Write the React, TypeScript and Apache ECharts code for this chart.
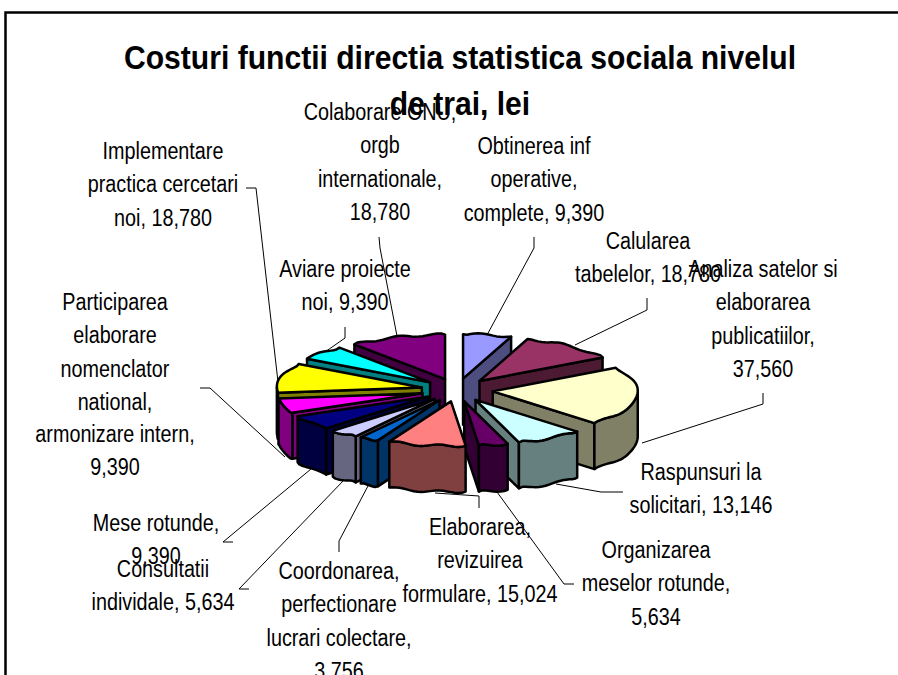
import React, { useEffect, useRef } from "react";
import * as echarts from "echarts";

const titleText = "Costuri functii directia statistica sociala nivelul\nde trai, lei";
const categories = [
  "Obtinerea inf\noperative,\ncomplete, ",
  "Calularea\ntabelelor, ",
  "Analiza satelor si\nelaborarea\npublicatiilor,\n",
  "Raspunsuri la\nsolicitari, ",
  "Organizarea\nmeselor rotunde,\n",
  "Elaborarea,\nrevizuirea\nformulare, ",
  "Coordonarea,\nperfectionare\nlucrari colectare,\n",
  "Consultatii\nindividale, ",
  "Mese rotunde,\n",
  "Participarea\nelaborare\nnomenclator\nnational,\narmonizare intern,\n",
  "Implementare\npractica cercetari\nnoi, ",
  "Aviare proiecte\nnoi, ",
  "Colaborare ONU,\norgb\ninternationale,\n",
];
const values = [9390, 18780, 37560, 13146, 5634, 15024, 3756, 5634, 9390, 9390, 18780, 9390, 18780];
const colors = ["#9999FF", "#993366", "#FFFFCC", "#CCFFFF", "#660066", "#FF8080", "#0066CC", "#CCCCFF", "#000080", "#FF00FF", "#FFFF00", "#00FFFF", "#800080"];
// label anchor: centre x, centre y of the first line
const labelAnchors = [[534, 147], [648, 242], [763, 270], [701, 473], [656, 551], [480, 528], [339, 572], [163, 570], [156, 524], [115, 303], [163, 152], [345, 270], [380, 113]];
const leaders = [
  [[534, 237], [534, 248], [487, 335]],
  [[647, 298], [647, 310], [575, 345]],
  [[763, 393], [763, 404], [642, 443]],
  [[623, 492], [601, 492], [556, 484]],
  [[574, 584], [564, 584], [497, 492]],
  [[479, 508], [479, 496], [435, 493]],
  [[339, 552], [339, 541], [369, 484]],
  [[249, 589], [239, 589], [344, 480]],
  [[233, 542], [223, 542], [311, 469]],
  [[200, 388], [210, 388], [285, 457]],
  [[246, 188], [256, 188], [278, 382]],
  [[345, 327], [345, 338], [325, 352]],
  [[379, 237], [380, 248], [397, 336]],
];

const CX = 457, CY = 390, RX = 145, RY = 44.5, DEPTH = 46, EX = 36, EY = 11.5;
const LINE_H = 33;
const total = values.reduce((a, b) => a + b, 0);
const fmt = (v: number) => v.toLocaleString("en-US");
const dark = (hex: string) => {
  const n = parseInt(hex.slice(1), 16);
  const c = [(n >> 16) & 255, (n >> 8) & 255, n & 255].map((x) => Math.round(x / 2));
  return `rgb(${c[0]},${c[1]},${c[2]})`;
};
const rad = (d: number) => (d * Math.PI) / 180;
const starts: number[] = [];
values.reduce((acc, v, i) => { starts[i] = (acc / total) * 360; return acc + v; }, 0);
const mids = values.map((v, i) => starts[i] + ((v / total) * 360) / 2);
const drawOrder = values.map((_, i) => i).sort((a, b) => Math.cos(rad(mids[b])) - Math.cos(rad(mids[a])));

function renderSlice(_: any, api: any) {
  const v = api.value(0) as number;
  const i = api.value(1) as number;
  const s = starts[i];
  const e = s + (v / total) * 360;
  const m = (s + e) / 2;
  const tx = CX + EX * Math.sin(rad(m));
  const ty = CY - EY * Math.cos(rad(m));
  const pt = (a: number, dz = 0) => [tx + RX * Math.sin(rad(a)), ty - RY * Math.cos(rad(a)) + dz];
  const ripple = (p: number[]) => [p[0], p[1] + 1.2 * Math.sin(p[0] / 6.5)];
  const arc = (a0: number, a1: number, dz = 0) => {
    const n = Math.max(2, Math.ceil(Math.abs(a1 - a0) / 1.5));
    const out: number[][] = [];
    for (let k = 0; k <= n; k++) {
      const p = pt(a0 + ((a1 - a0) * k) / n, dz);
      out.push(k > 0 && k < n ? ripple(p) : p);
    }
    return out;
  };
  const side = dark(colors[i]);
  const base = { stroke: "#000", lineWidth: 2.5, lineJoin: "round" };
  const poly = (points: number[][], fill: string) => ({ type: "polygon", shape: { points }, style: { ...base, fill } });
  const children: any[] = [];
  const wall = (a: number) => {
    const p = pt(a);
    return poly([[tx, ty], p, [p[0], p[1] + DEPTH], [tx, ty + DEPTH]], side);
  };
  if (Math.sin(rad(s)) < 0) children.push(wall(s));
  if (Math.sin(rad(e)) > 0) children.push(wall(e));
  const o0 = Math.max(s, 90), o1 = Math.min(e, 270);
  if (o1 > o0) children.push(poly([...arc(o0, o1), ...arc(o1, o0, DEPTH)], side));
  children.push(poly([[tx, ty], ...arc(s, e)], colors[i]));
  return { type: "group", children };
}

export default function App() {
  const ref = useRef<HTMLDivElement>(null);
  useEffect(() => {
    document.body.style.margin = "0";
    const chart = echarts.init(ref.current!, undefined, { renderer: "svg" });
    const labelGraphics = categories.map((c, i) => ({
      type: "text",
      x: labelAnchors[i][0],
      y: labelAnchors[i][1] - LINE_H / 2,
      scaleX: 0.86,
      z: 5,
      style: {
        text: c + fmt(values[i]),
        font: "23px 'Liberation Sans'",
        lineHeight: LINE_H,
        align: "center",
        verticalAlign: "top",
        fill: "#000",
      },
    }));
    const leaderGraphics = leaders.map((points) => ({
      type: "polyline",
      z: 4,
      shape: { points },
      style: { stroke: "#000", lineWidth: 1, fill: "none" },
    }));
    chart.setOption({
      animation: false,
      backgroundColor: "#fff",
      graphic: [
        { type: "rect", z: 0, shape: { x: 5.5, y: 12.5, width: 1000, height: 800 }, style: { fill: "none", stroke: "#000", lineWidth: 2.5 } },
        ...leaderGraphics,
        {
          type: "text",
          x: 460,
          y: 57 - 23,
          scaleX: 0.885,
          z: 6,
          style: { text: titleText, font: "bold 34px 'Liberation Sans'", lineHeight: 46, align: "center", verticalAlign: "top", fill: "#000" },
        },
        ...labelGraphics,
      ],
      series: [
        {
          type: "custom",
          coordinateSystem: "none",
          renderItem: renderSlice,
          data: drawOrder.map((i) => [values[i], i]),
          silent: true,
          z: 2,
        },
      ],
    });
    return () => chart.dispose();
  }, []);
  return <div ref={ref} style={{ position: "absolute", left: 0, top: 0, width: 898, height: 675, overflow: "hidden" }} />;
}
